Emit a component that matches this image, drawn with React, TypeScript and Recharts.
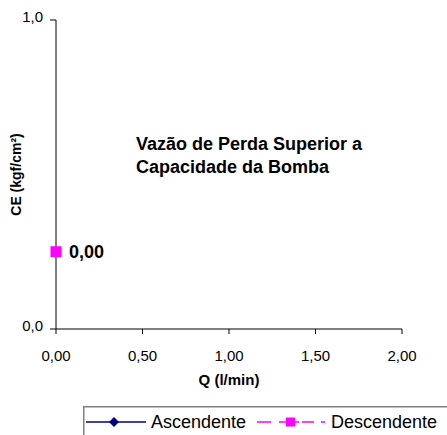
import { Customized, LabelList, Legend, Line, LineChart, XAxis, YAxis } from "recharts";

const xTicks = [0, 0.5, 1, 1.5, 2];
const yTicks = [0, 1];

const ascendenteQ: number[] = [];
const ascendenteCE: number[] = [];
const descendenteQ = [0];
const descendenteCE = [0.25];

const noteLines = ["Vazão de Perda Superior a", "Capacidade da Bomba"];
const seriesNames = ["Ascendente", "Descendente"];

const FONT = "'Liberation Sans', Arial, sans-serif";

const toPoints = (q: number[], ce: number[]) => q.map((v, i) => ({ q: v, ce: ce[i] }));

const ascendente = toPoints(ascendenteQ, ascendenteCE);
const descendente = toPoints(descendenteQ, descendenteCE);

const comma = (v: number, d: number) => v.toFixed(d).replace(".", ",");

function SquareDot(props: any) {
  const { cx, cy } = props;
  if (cx == null || cy == null) return null;
  return <rect x={cx - 5.5} y={cy - 5.5} width={11} height={11} fill="#ff00ff" />;
}

function Note() {
  return (
    <text fontFamily={FONT} fontSize={18} fontWeight="bold" fill="#000">
      {noteLines.map((t, i) => (
        <tspan key={t} x={136} y={150 + i * 23}>{t}</tspan>
      ))}
    </text>
  );
}

function LegendBox() {
  return (
    <svg width={364} height={29} style={{ display: "block", fontFamily: FONT }}>
      <line x1={0} y1={0.75} x2={364} y2={0.75} stroke="#808080" strokeWidth={1.5} />
      <line x1={0.75} y1={0} x2={0.75} y2={29} stroke="#808080" strokeWidth={1.5} />
      <line x1={3} y1={16} x2={63} y2={16} stroke="#000080" strokeWidth={1.5} />
      <path d="M31,11 L36,16 L31,21 L26,16 Z" fill="#000080" />
      <text x={68} y={22} fontSize={18} fill="#000">{seriesNames[0]}</text>
      <line x1={174} y1={16} x2={242} y2={16} stroke="#ff00ff" strokeWidth={1.5} strokeDasharray="14 8 20 3 12 7" />
      <rect x={203} y={11.5} width={9} height={9} fill="#ff00ff" />
      <text x={248} y={22} fontSize={18} fill="#000">{seriesNames[1]}</text>
    </svg>
  );
}

export default function App() {
  return (
    <div style={{ position: "absolute", left: 0, top: 0, background: "#fff" }}>
      <LineChart width={447} height={435} margin={{ top: 20, right: 45, bottom: 50, left: 0 }}>
        <XAxis
          type="number"
          dataKey="q"
          domain={[0, 2]}
          ticks={xTicks}
          tickFormatter={(v) => comma(v, 2)}
          stroke="#000"
          tickSize={5}
          tickMargin={16}
          height={56}
          tick={{ fill: "#000", fontSize: 15, fontFamily: FONT }}
          label={{ value: "Q (l/min)", position: "insideBottom", offset: 0, style: { fontFamily: FONT, fontSize: 15, fontWeight: "bold", fill: "#000" } }}
        />
        <YAxis
          type="number"
          dataKey="ce"
          domain={[0, 1]}
          ticks={yTicks}
          tickFormatter={(v) => comma(v, 1)}
          stroke="#000"
          tickSize={6}
          tickMargin={7}
          width={56}
          tick={{ fill: "#000", fontSize: 15, fontFamily: FONT, dy: -3 }}
          label={{ value: "CE (kgf/cm²)", angle: -90, position: "insideLeft", offset: 16, style: { fontFamily: FONT, fontSize: 14, fontWeight: "bold", fill: "#000", textAnchor: "middle" } }}
        />
        <Line
          data={ascendente}
          dataKey="ce"
          name={seriesNames[0]}
          stroke="#000080"
          strokeWidth={1.5}
          isAnimationActive={false}
        />
        <Line
          data={descendente}
          dataKey="ce"
          name={seriesNames[1]}
          stroke="#ff00ff"
          strokeWidth={1.5}
          strokeDasharray="14 8"
          dot={<SquareDot />}
          activeDot={false}
          isAnimationActive={false}
        >
          <LabelList
            dataKey="q"
            position="right"
            offset={13}
            formatter={(v: any) => comma(Number(v), 2)}
            style={{ fontFamily: FONT, fontSize: 18, fontWeight: "bold", fill: "#000" }}
          />
        </Line>
        <Customized component={<Note />} />
        <Legend
          layout="horizontal"
          verticalAlign="middle"
          align="center"
          content={() => <LegendBox />}
          wrapperStyle={{ left: 83, top: 406, width: 364, height: 29 }}
        />
      </LineChart>
    </div>
  );
}
